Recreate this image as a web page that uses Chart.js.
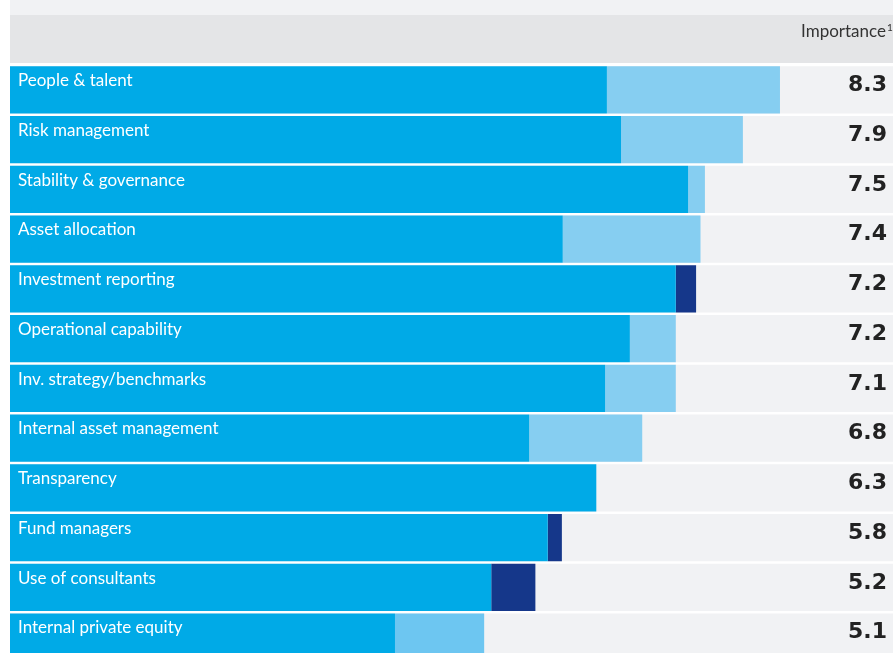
<!DOCTYPE html>
<html lang="en">

<head>
  <meta charset="UTF-8">
  <script src="https://cdn.jsdelivr.net/npm/chart.js"></script>
  <style>
    html, body {
      margin: 0;
      background: #ffffff;
      overflow: hidden;
    }

    .wrap {
      position: absolute;
      left: 0;
      top: 0;
      width: 893px;
      height: 662px;
    }
  </style>
  <title>Importance by area</title>
</head>

<body>
  <div class="wrap">
    <canvas id="chart"></canvas>
  </div>
  <script>
    const categories = [
      'People & talent', 'Risk management', 'Stability & governance', 'Asset allocation',
      'Investment reporting', 'Operational capability', 'Inv. strategy/benchmarks',
      'Internal asset management', 'Transparency', 'Fund managers', 'Use of consultants',
      'Internal private equity'
    ];
    const baseScores = [6.76, 6.92, 7.68, 6.26, 7.54, 7.02, 6.74, 5.88, 6.64, 6.09, 5.45, 4.36];
    const gains = [1.96, 1.38, 0.19, 1.56, 0, 0.52, 0.80, 1.28, 0, 0, 0, 1.01];
    const drops = [0, 0, 0, 0, 0.23, 0, 0, 0, 0, 0.16, 0.50, 0];
    const importance = ['8.3', '7.9', '7.5', '7.4', '7.2', '7.2', '7.1', '6.8', '6.3', '5.8', '5.2', '5.1'];

    const BLUE = '#00aae7';
    const LIGHT = '#86cef1';
    const NAVY = '#15378a';
    const TRACK = '#f1f2f4';
    const HEADER = '#e4e5e7';
    const barPct = 0.95;

    // grey header strip plus a track behind every row
    const backdrop = {
      id: 'backdrop',
      beforeDatasetsDraw(chart) {
        const { ctx, chartArea, scales } = chart;
        const y = scales.y;
        const band = (chartArea.bottom - chartArea.top) / categories.length;
        const h = band * barPct;
        ctx.save();
        ctx.fillStyle = TRACK;
        ctx.fillRect(chartArea.left, 0, chartArea.right - chartArea.left, 15);
        ctx.fillStyle = HEADER;
        ctx.fillRect(chartArea.left, 15, chartArea.right - chartArea.left, 48);

        ctx.fillStyle = '#333';
        ctx.font = '17px Lato, sans-serif';
        ctx.textBaseline = 'alphabetic';
        ctx.textAlign = 'right';
        ctx.fillText('Importance', 886, 37);
        ctx.font = '10px Lato, sans-serif';
        ctx.textAlign = 'left';
        ctx.fillText('1', 887, 31);

        ctx.fillStyle = TRACK;
        categories.forEach((c, i) => {
          const cy = y.getPixelForValue(i);
          ctx.fillRect(chartArea.left, cy - h / 2, chartArea.right - chartArea.left, h);
        });
        ctx.restore();
      },
      afterDatasetsDraw(chart) {
        const { ctx, chartArea, scales } = chart;
        const y = scales.y;
        const band = (chartArea.bottom - chartArea.top) / categories.length;
        const h = band * barPct;
        ctx.save();
        categories.forEach((c, i) => {
          const top = y.getPixelForValue(i) - h / 2;
          ctx.fillStyle = '#ffffff';
          ctx.font = '17px Lato, sans-serif';
          ctx.textAlign = 'left';
          ctx.textBaseline = 'alphabetic';
          ctx.fillText(c, 18, top + 20);

          ctx.fillStyle = '#222';
          ctx.font = 'bold 22px "DejaVu Sans", sans-serif';
          ctx.textAlign = 'right';
          ctx.fillText(importance[i], 887, top + 25);
        });
        ctx.restore();
      }
    };

    const lightColours = gains.map((g, i) => i === gains.length - 1 ? '#6dc6f1' : LIGHT);

    new Chart(document.getElementById('chart'), {
      type: 'bar',
      data: {
        labels: categories,
        datasets: [
          { data: baseScores, backgroundColor: BLUE },
          { data: gains, backgroundColor: lightColours },
          { data: drops, backgroundColor: NAVY }
        ]
      },
      options: {
        indexAxis: 'y',
        responsive: true,
        maintainAspectRatio: false,
        animation: false,
        events: [],
        layout: { padding: { top: 65, left: 10, right: 0, bottom: 0 } },
        datasets: {
          bar: { barPercentage: barPct, categoryPercentage: 1, borderWidth: 0, borderSkipped: false }
        },
        plugins: {
          legend: { display: false },
          tooltip: { enabled: false }
        },
        scales: {
          x: { stacked: true, min: 0, max: 10, display: false },
          y: { stacked: true, display: false }
        }
      },
      plugins: [backdrop]
    });
  </script>
</body>

</html>
